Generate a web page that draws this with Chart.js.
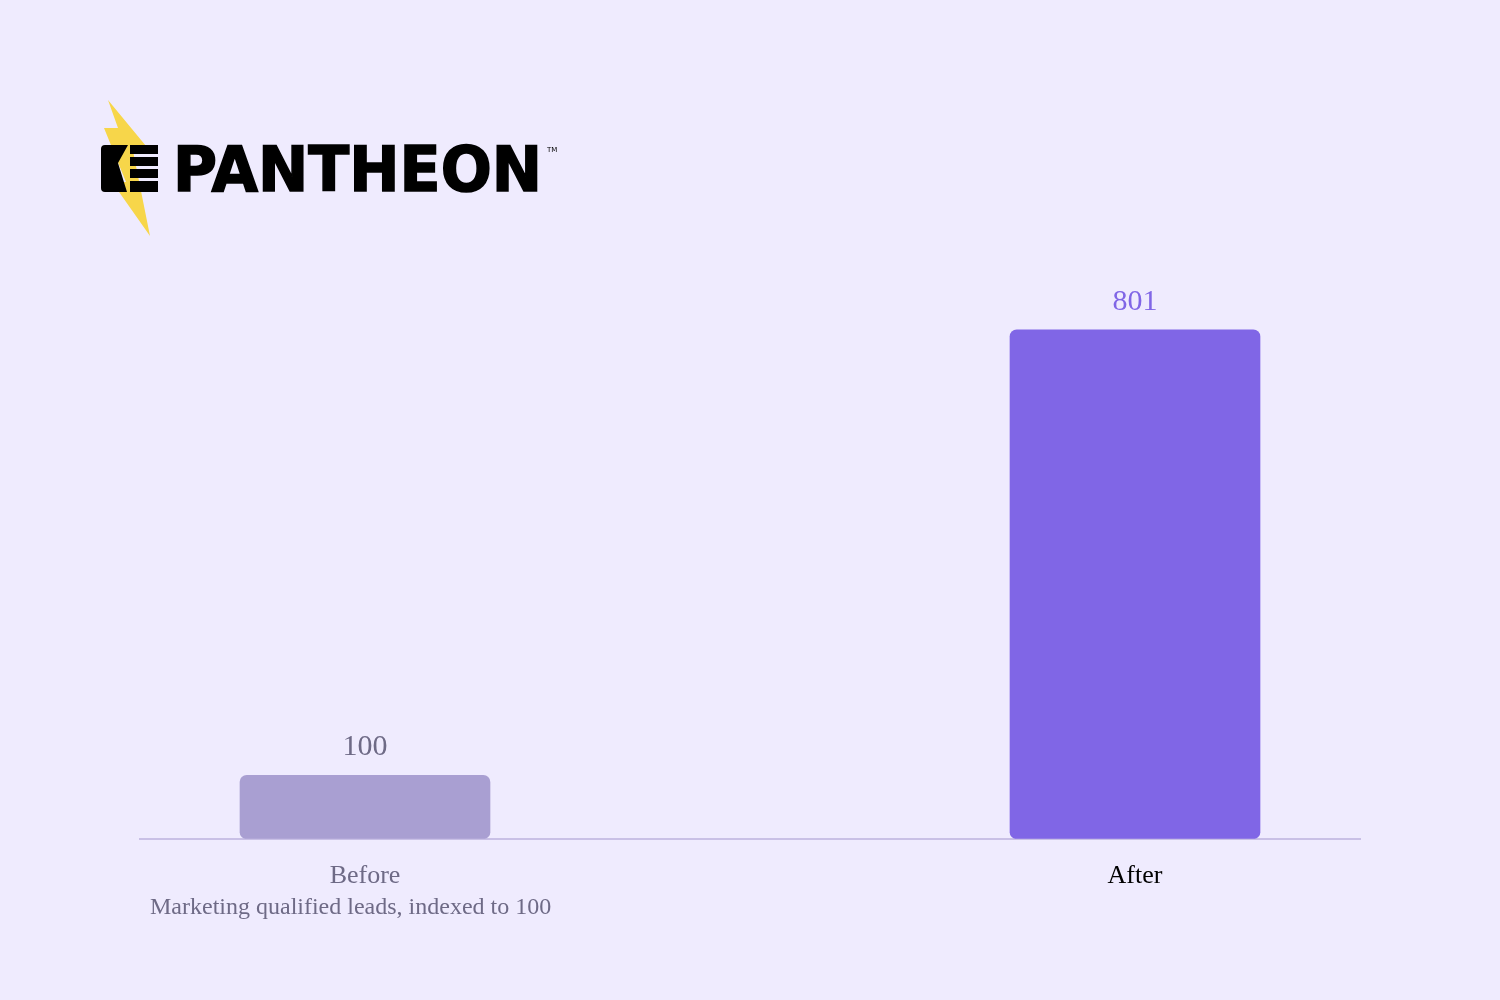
<!DOCTYPE html>
<html>
<head>
<meta charset="utf-8">
<script src="https://cdn.jsdelivr.net/npm/chart.js@4.4.1/dist/chart.umd.min.js"></script>
<style>
  html, body { margin: 0; padding: 0; background: #efebfe; }
  #wrap { position: relative; width: 1500px; height: 1000px; }
  #chart { position: absolute; left: 0; top: 0; }
  #logo { position: absolute; left: 95px; top: 95px; }
  #note {
    position: absolute; left: 150px; top: 893px;
    font-family: "Liberation Serif", serif; font-size: 24px; color: #6e6a86;
    white-space: nowrap;
  }
</style>
</head>
<body>
<div id="wrap">
  <canvas id="chart" width="1500" height="1000"></canvas>
  <svg id="logo" width="480" height="150" viewBox="95 95 480 150">
    <polygon points="108,100 146,146 132,146 150,236 112,182 126,182 104,128 118,128" fill="#f7d64a"/>
    <path d="M101,149 q0,-4 4,-4 h22 l-12,20 l8,27 h-18 q-4,0 -4,-4 z" fill="#000"/>
    <path d="M119,145 h9 l-10,18 l9,29 h-9 l-9,-29 z" fill="#000"/>
    <rect x="130" y="145" width="28" height="9" fill="#000"/>
    <rect x="130" y="157" width="28" height="9" fill="#000"/>
    <rect x="130" y="169" width="28" height="9" fill="#000"/>
    <rect x="130" y="181" width="28" height="11" fill="#000"/>
    <text x="173" y="191" textLength="369" lengthAdjust="spacingAndGlyphs"
          font-family="DejaVu Sans" font-weight="bold" font-size="63" fill="#000"
          stroke="#000" stroke-width="1.6">PANTHEON</text>
    <text x="547" y="152" font-family="DejaVu Sans" font-size="7" fill="#000">TM</text>
  </svg>
  <div id="note">Marketing qualified leads, indexed to 100</div>
</div>
<script>
const categories = ['Before', 'After'];
const values = [100, 801];
const barColors = ['#a99fd2', '#8066e6'];
const valueColors = ['#6e6a86', '#8066e6'];
const tickColors = ['#6e6a86', '#000000'];

const valueLabels = {
  id: 'valueLabels',
  afterDatasetsDraw(chart) {
    const ctx = chart.ctx;
    const meta = chart.getDatasetMeta(0);
    ctx.save();
    ctx.font = '30px "Liberation Serif"';
    ctx.textAlign = 'center';
    ctx.textBaseline = 'bottom';
    meta.data.forEach((bar, i) => {
      ctx.fillStyle = valueColors[i];
      ctx.fillText(String(values[i]), bar.x, bar.y - 13);
    });
    ctx.restore();
  }
};

const ctx = document.getElementById('chart').getContext('2d');
const chart = new Chart(ctx, {
  type: 'bar',
  data: {
    datasets: [{
      data: values.map((v, i) => ({ x: i, y: v })),
      backgroundColor: barColors,
      borderRadius: 7,
      borderSkipped: false,
      barThickness: 250
    }]
  },
  options: {
    responsive: false,
    animation: false,
    layout: { padding: { left: 140, right: 140, top: 267, bottom: 86 } },
    plugins: { legend: { display: false }, tooltip: { enabled: false } },
    scales: {
      x: {
        type: 'linear',
        offset: false,
        bounds: 'ticks',
        min: -0.2922,
        max: 1.2922,
        afterBuildTicks: (axis) => { axis.ticks = categories.map((c, i) => ({ value: i })); },
        grid: { display: false, drawTicks: false },
        border: { display: true, color: '#c9c0e6', width: 2 },
        ticks: {
          padding: 22,
          autoSkip: false,
          maxRotation: 0,
          font: { family: 'Liberation Serif', size: 26 },
          color: (c) => tickColors[c.index],
          callback: (v) => categories[v]
        }
      },
      y: {
        display: false,
        min: 0,
        max: 900
      }
    }
  },
  plugins: [valueLabels]
});
</script>
</body>
</html>
